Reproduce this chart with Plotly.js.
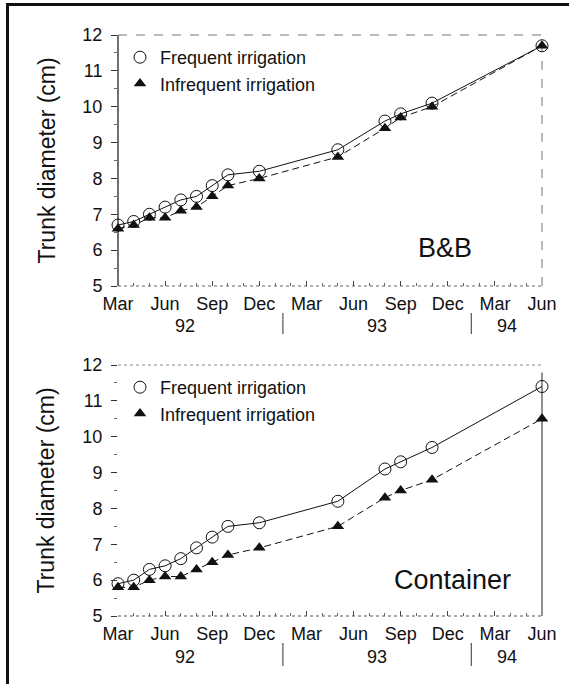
<!DOCTYPE html>
<html>
<head>
<meta charset="utf-8">
<script src="https://cdn.plot.ly/plotly-3.0.1.min.js"></script>
<style>
  html, body { margin: 0; padding: 0; background: #fff; }
  #chart { width: 569px; height: 684px; position: relative; }
  .frameTop { position: absolute; left: 6px; top: 3px; width: 563px; height: 3px; background: #111; z-index: 5; }
  .frameLeft { position: absolute; left: 6px; top: 3px; width: 3px; height: 681px; background: #111; z-index: 5; }
</style>
</head>
<body>
<div id="chart"></div>
<div class="frameTop"></div>
<div class="frameLeft"></div>
<script>
// Months elapsed since March 1992
const months = [0, 1, 2, 3, 4, 5, 6, 7, 9, 14, 17, 18, 20, 27];

// B&B panel
const bbFrequent   = [6.7, 6.8, 7.0, 7.2, 7.4, 7.5, 7.8, 8.1, 8.2, 8.8, 9.6, 9.8, 10.1, 11.7];
const bbInfrequent = [6.6, 6.7, 6.9, 6.9, 7.1, 7.2, 7.5, 7.8, 8.0, 8.6, 9.4, 9.7, 10.0, 11.7];

// Container panel
const ctFrequent   = [5.9, 6.0, 6.3, 6.4, 6.6, 6.9, 7.2, 7.5, 7.6, 8.2, 9.1, 9.3, 9.7, 11.4];
const ctInfrequent = [5.8, 5.8, 6.0, 6.1, 6.1, 6.3, 6.5, 6.7, 6.9, 7.5, 8.3, 8.5, 8.8, 10.5];

// Axis labels
const monthTickVals = [0, 3, 6, 9, 12, 15, 18, 21, 24, 27];
const monthTickText = ['Mar', 'Jun', 'Sep', 'Dec', 'Mar', 'Jun', 'Sep', 'Dec', 'Mar', 'Jun'];
const yearLabels = ['92', '93', '94'];
const yearCenters = [4.25, 16.5, 24.75];
const yearBreaks = [10.5, 22.5];
const seriesNames = ['Frequent irrigation', 'Infrequent irrigation'];
const panelNames = ['B&B', 'Container'];

const FONT = 'Liberation Sans, Arial, Helvetica, sans-serif';

const circleMarker = { symbol: 'circle-open', size: 12, color: '#111', line: { width: 1, color: '#111' } };
const triMarker = { symbol: 'triangle-up', size: 11, color: '#111', line: { width: 0 } };

function lineTrace(x, y, xa, ya, dashed) {
  return {
    x: x, y: y, xaxis: xa, yaxis: ya, type: 'scatter', mode: 'lines+markers',
    showlegend: false, cliponaxis: false,
    line: { color: '#111', width: 1, dash: dashed ? '7px,4px' : 'solid' },
    marker: dashed ? triMarker : circleMarker
  };
}
function legendTrace(name, dashed, legendId) {
  return {
    x: [null], y: [null], type: 'scatter', mode: 'markers', name: name,
    legend: legendId, showlegend: true,
    marker: dashed ? triMarker : circleMarker
  };
}

const data = [
  lineTrace(months, bbInfrequent, 'x', 'y', true),
  lineTrace(months, bbFrequent, 'x', 'y', false),
  lineTrace(months, ctInfrequent, 'x2', 'y2', true),
  lineTrace(months, ctFrequent, 'x2', 'y2', false),
  legendTrace(seriesNames[0], false, 'legend'),
  legendTrace(seriesNames[1], true, 'legend'),
  legendTrace(seriesNames[0], false, 'legend2'),
  legendTrace(seriesNames[1], true, 'legend2')
];

const xDom = [118 / 569, 542 / 569];
const topDom = [1 - 286 / 684, 1 - 35 / 684];
const botDom = [1 - 616 / 684, 1 - 365 / 684];

function xAxis(dom, anchor) {
  return {
    domain: dom, anchor: anchor, range: [0, 27], showgrid: false, zeroline: false, showline: false,
    tickmode: 'array', tickvals: monthTickVals, ticktext: monthTickText,
    ticks: 'inside', ticklen: 5, tickcolor: '#444', tickwidth: 1, ticklabelstandoff: 5,
    minor: { dtick: 1, tick0: 0, ticks: 'inside', ticklen: 3, tickcolor: '#666', showgrid: false },
    tickfont: { family: FONT, size: 18, color: '#111' }, fixedrange: true
  };
}
function yAxis(dom, anchor) {
  return {
    domain: dom, anchor: anchor, range: [5, 12], showgrid: false, zeroline: false, showline: false,
    tickmode: 'linear', tick0: 5, dtick: 1,
    ticks: 'outside', ticklen: 6, tickcolor: '#333', tickwidth: 1, ticklabelstandoff: 5,
    minor: { dtick: 0.5, tick0: 5, ticks: 'outside', ticklen: 3, tickcolor: '#666', showgrid: false },
    tickfont: { family: FONT, size: 18, color: '#111' }, fixedrange: true
  };
}

function seg(xref, yref, x0, y0, x1, y1, color, dash, width) {
  return { type: 'line', xref: xref, yref: yref, x0: x0, y0: y0, x1: x1, y1: y1,
           line: { color: color, width: width || 1, dash: dash }, layer: 'below' };
}

const shapes = [
  // top panel frame
  seg('x domain', 'y domain', 0, 0, 0, 1, '#111', 'solid', 1.2),
  seg('x domain', 'y domain', 0, 0, 1, 0, '#666', 'dot'),
  seg('x domain', 'y domain', 0, 1, 1, 1, '#777', 'dash'),
  seg('x domain', 'y domain', 1, 0, 1, 1, '#777', 'dash'),
  // bottom panel frame
  seg('x2 domain', 'y2 domain', 0, 0, 1, 0, '#555', 'dot'),
  seg('x2 domain', 'y2 domain', 0, 1, 1, 1, '#888', 'dot'),
  seg('x2 domain', 'y2 domain', 1, 0, 1, 0.97, '#222', 'solid')
];
// year separators
yearBreaks.forEach(function (b) {
  shapes.push(seg('x', 'paper', b, 1 - 334 / 684, b, 1 - 313 / 684, '#555', 'solid', 1.2));
  shapes.push(seg('x2', 'paper', b, 1 - 666 / 684, b, 1 - 643 / 684, '#555', 'solid', 1.2));
});

const annotations = [];
yearLabels.forEach(function (t, i) {
  annotations.push({ text: t, xref: 'x', yref: 'paper', x: yearCenters[i], y: 1 - 326 / 684,
    showarrow: false, xanchor: 'center', yanchor: 'middle', font: { family: FONT, size: 18, color: '#111' } });
  annotations.push({ text: t, xref: 'x2', yref: 'paper', x: yearCenters[i], y: 1 - 657 / 684,
    showarrow: false, xanchor: 'center', yanchor: 'middle', font: { family: FONT, size: 18, color: '#111' } });
});
annotations.push({ text: 'Trunk diameter (cm)', xref: 'paper', yref: 'paper', x: 46 / 569, y: (topDom[0] + topDom[1]) / 2,
  textangle: -90, showarrow: false, xanchor: 'center', yanchor: 'middle', font: { family: FONT, size: 23, color: '#111' } });
annotations.push({ text: 'Trunk diameter (cm)', xref: 'paper', yref: 'paper', x: 46 / 569, y: (botDom[0] + botDom[1]) / 2,
  textangle: -90, showarrow: false, xanchor: 'center', yanchor: 'middle', font: { family: FONT, size: 23, color: '#111' } });
annotations.push({ text: panelNames[0], xref: 'paper', yref: 'paper', x: 445 / 569, y: 1 - 248 / 684,
  showarrow: false, xanchor: 'center', yanchor: 'middle', font: { family: FONT, size: 27, color: '#111' } });
annotations.push({ text: panelNames[1], xref: 'paper', yref: 'paper', x: 452 / 569, y: 1 - 580 / 684,
  showarrow: false, xanchor: 'center', yanchor: 'middle', font: { family: FONT, size: 27, color: '#111' } });

function legendCfg(topPx) {
  return { x: 120 / 569, y: 1 - topPx / 684, xanchor: 'left', yanchor: 'top', bgcolor: 'rgba(0,0,0,0)',
    borderwidth: 0, itemwidth: 30, tracegroupgap: 0,
    font: { family: FONT, size: 18, color: '#111' } };
}

const layout = {
  width: 569, height: 684,
  margin: { l: 0, r: 0, t: 0, b: 0, pad: 0 },
  paper_bgcolor: '#fff', plot_bgcolor: 'rgba(0,0,0,0)',
  showlegend: true,
  xaxis: xAxis(xDom, 'y'),
  yaxis: yAxis(topDom, 'x'),
  xaxis2: xAxis(xDom, 'y2'),
  yaxis2: yAxis(botDom, 'x2'),
  legend: legendCfg(39),
  legend2: legendCfg(369),
  shapes: shapes,
  annotations: annotations
};

Plotly.newPlot('chart', data, layout, { displayModeBar: false, staticPlot: true });
</script>
</body>
</html>
